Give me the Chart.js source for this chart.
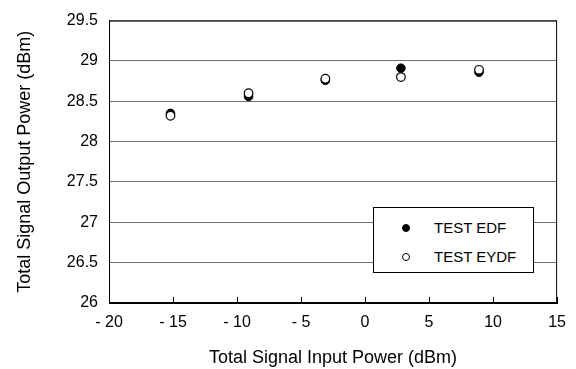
<!DOCTYPE html>
<html>
<head>
<meta charset="utf-8">
<script src="https://cdn.jsdelivr.net/npm/chart.js@4"></script>
<style>
    body { margin: 0; background: #fff; }
    #wrap { position: relative; width: 576px; height: 369px; }
    #legendBox {
        position: absolute; left: 373px; top: 207px; width: 159px; height: 64px;
        border: 1px solid #000; background: #fff;
        font-family: "Liberation Sans", Arial, sans-serif; font-size: 15px; color: #000;
    }
    .item { position: absolute; left: 28px; height: 18px; line-height: 18px; white-space: nowrap; }
    .dot { position: absolute; left: 0; top: 5px; width: 8px; height: 8px; border-radius: 50%; box-sizing: border-box; border: 1px solid #000; }
    .item span.txt { position: absolute; left: 32px; top: 0; }
</style>
</head>
<body>
<div id="wrap">
    <canvas id="powerChart"></canvas>
    <div id="legendBox"></div>
</div>
<script>
// data
const inputPower = [-15.2, -9.1, -3.1, 2.8, 8.9];
const edfOutput = [28.35, 28.56, 28.76, 28.91, 28.86];
const eydfOutput = [28.32, 28.6, 28.78, 28.8, 28.89];
const seriesLabels = ['TEST EDF', 'TEST EYDF'];
const xTicks = [-20, -15, -10, -5, 0, 5, 10, 15];
const yTicks = [26, 26.5, 27, 27.5, 28, 28.5, 29, 29.5];

const fontFamily = '"Liberation Sans", Arial, sans-serif';

function toPoints(xs, ys) {
    return xs.map((x, i) => ({ x: x, y: ys[i] }));
}

// frame + inward x ticks
const framePlugin = {
    id: 'frame',
    afterDraw(chart) {
        const { ctx, chartArea: a } = chart;
        const xScale = chart.scales.x;
        ctx.save();
        ctx.strokeStyle = '#000';
        ctx.lineWidth = 1;
        ctx.strokeRect(a.left + 0.5, a.top + 0.5, a.right - a.left - 1, a.bottom - a.top - 1);
        ctx.beginPath();
        xTicks.forEach(v => {
            const px = Math.round(xScale.getPixelForValue(v)) + 0.5;
            ctx.moveTo(px, a.bottom);
            ctx.lineTo(px, a.bottom - 6);
        });
        ctx.stroke();
        ctx.restore();
    }
};

const ctx = document.getElementById('powerChart').getContext('2d');
const powerChart = new Chart(ctx, {
    type: 'scatter',
    data: {
        datasets: [{
            label: seriesLabels[0],
            data: toPoints(inputPower, edfOutput),
            pointRadius: 4.3,
            pointBackgroundColor: '#000',
            pointBorderColor: '#000',
            pointBorderWidth: 1,
            order: 2
        }, {
            label: seriesLabels[1],
            data: toPoints(inputPower, eydfOutput),
            pointRadius: 4.3,
            pointBackgroundColor: '#fff',
            pointBorderColor: '#000',
            pointBorderWidth: 1.2,
            order: 1
        }]
    },
    options: {
        responsive: true,
        maintainAspectRatio: false,
        animation: false,
        layout: { padding: { top: 16, right: 14, left: 0, bottom: 0 } },
        plugins: {
            legend: { display: false },
            tooltip: { enabled: false }
        },
        scales: {
            x: {
                type: 'linear',
                min: -20,
                max: 15,
                afterBuildTicks: scale => { scale.ticks = xTicks.map(v => ({ value: v })); },
                afterFit: scale => { scale.height = 66; },
                grid: { display: false, drawTicks: false },
                border: { color: '#000', width: 1 },
                ticks: {
                    padding: 10,
                    color: '#000',
                    font: { family: fontFamily, size: 16 },
                    maxRotation: 0,
                    callback: v => (v < 0 ? '- ' + Math.abs(v) : String(v))
                },
                title: {
                    display: true,
                    text: 'Total Signal Input Power (dBm)',
                    color: '#000',
                    font: { family: fontFamily, size: 18 },
                    padding: { top: 0, bottom: 0 }
                }
            },
            y: {
                min: 26,
                max: 29.5,
                afterBuildTicks: scale => { scale.ticks = yTicks.map(v => ({ value: v })); },
                afterFit: scale => { scale.width = 109; },
                grid: { color: '#707070', lineWidth: 1, drawTicks: false },
                border: { color: '#000', width: 1 },
                ticks: {
                    padding: 11,
                    color: '#000',
                    font: { family: fontFamily, size: 16 },
                    callback: v => String(v)
                },
                title: {
                    display: true,
                    text: 'Total Signal Output Power (dBm)',
                    color: '#000',
                    font: { family: fontFamily, size: 18 },
                    padding: { top: 14, bottom: 0 }
                }
            }
        }
    },
    plugins: [framePlugin]
});

// html legend built from the dataset styles
const legendBox = document.getElementById('legendBox');
powerChart.data.datasets.forEach((ds, i) => {
    const item = document.createElement('div');
    item.className = 'item';
    item.style.top = (i === 0 ? 11 : 40) + 'px';
    item.innerHTML = '<span class="dot" style="background:' + ds.pointBackgroundColor + '"></span>' +
        '<span class="txt">' + ds.label + '</span>';
    legendBox.appendChild(item);
});
</script>
</body>
</html>
